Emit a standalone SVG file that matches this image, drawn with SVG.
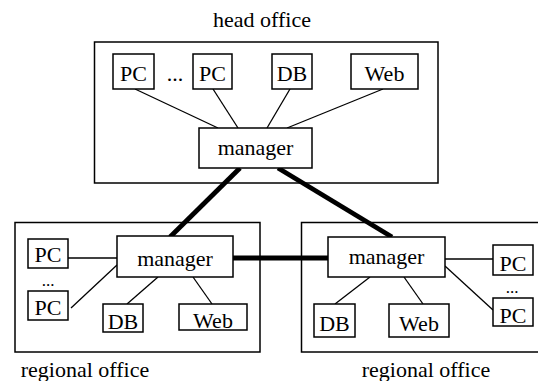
<svg xmlns="http://www.w3.org/2000/svg" width="538" height="381" viewBox="0 0 538 381">
<style>
rect{fill:#fff;stroke:#000;stroke-width:1.5}
text{font-family:"Liberation Serif","Times New Roman",serif;font-size:22px;fill:#000;text-anchor:middle}
text.dots{font-size:17px}
.thin{stroke:#000;stroke-width:1.3;fill:none}
.thick{stroke:#000;stroke-width:4.8;fill:none}
</style>
<rect width="538" height="381" style="fill:#fff;stroke:none"/>
<g id="head-office">
<rect x="94.5" y="42" width="343.5" height="141"/>
<text x="262" y="27">head office</text>
</g>
<g id="regional-office-left">
<rect x="15" y="222.5" width="245" height="129.5"/>
<text x="85" y="377">regional office</text>
</g>
<g id="regional-office-right">
<rect x="301.5" y="222.5" width="245" height="129.5"/>
<text x="426" y="377">regional office</text>
</g>
<g id="connectors">
<line class="thin" x1="135" y1="89" x2="218" y2="128"/>
<line class="thin" x1="213" y1="89" x2="238" y2="128"/>
<line class="thin" x1="290" y1="89" x2="267" y2="128"/>
<line class="thin" x1="383" y1="89" x2="287" y2="128"/>
<line class="thick" x1="240" y1="168" x2="170" y2="237"/>
<line class="thick" x1="278" y1="168" x2="392" y2="237"/>
<line class="thick" x1="232" y1="258" x2="328" y2="258"/>
<line class="thin" x1="68" y1="258" x2="117" y2="258"/>
<line class="thin" x1="71" y1="308" x2="117" y2="265"/>
<line class="thin" x1="158" y1="277" x2="127" y2="304"/>
<line class="thin" x1="193" y1="277" x2="212" y2="304"/>
<line class="thin" x1="445" y1="259" x2="493" y2="259"/>
<line class="thin" x1="445" y1="266" x2="493" y2="310"/>
<line class="thin" x1="370" y1="277" x2="335" y2="304"/>
<line class="thin" x1="404" y1="277" x2="423" y2="304"/>
</g>
<g id="head-pc1"><rect x="113" y="54" width="41" height="35"/><text x="133.5" y="81">PC</text></g>
<g id="head-dots"><text x="175" y="81">...</text></g>
<g id="head-pc2"><rect x="193" y="54" width="39" height="35"/><text x="212.5" y="81">PC</text></g>
<g id="head-db"><rect x="272" y="54" width="40" height="35"/><text x="292" y="81">DB</text></g>
<g id="head-web"><rect x="351" y="54" width="67" height="35"/><text x="384.5" y="81">Web</text></g>
<g id="head-manager"><rect x="199" y="128" width="113" height="40"/><text x="255.5" y="155">manager</text></g>
<g id="left-manager"><rect x="117" y="236" width="116" height="41"/><text x="175" y="266">manager</text></g>
<g id="left-pc1"><rect x="28" y="239" width="40" height="29"/><text x="48" y="262">PC</text></g>
<g id="left-dots"><text class="dots" x="48" y="286">...</text></g>
<g id="left-pc2"><rect x="28" y="291" width="40" height="29"/><text x="48" y="315">PC</text></g>
<g id="left-db"><rect x="103" y="304" width="40" height="28"/><text x="123" y="329">DB</text></g>
<g id="left-web"><rect x="179" y="304" width="68" height="26"/><text x="213" y="328">Web</text></g>
<g id="right-manager"><rect x="328" y="237" width="117" height="40"/><text x="386.5" y="264">manager</text></g>
<g id="right-pc1"><rect x="493" y="245" width="40" height="30"/><text x="513" y="271">PC</text></g>
<g id="right-dots"><text class="dots" x="512" y="293">...</text></g>
<g id="right-pc2"><rect x="493" y="298" width="40" height="28"/><text x="513" y="323">PC</text></g>
<g id="right-db"><rect x="314" y="304" width="41" height="33"/><text x="334.5" y="331">DB</text></g>
<g id="right-web"><rect x="389" y="304" width="60" height="33"/><text x="419" y="331">Web</text></g>
</svg>
